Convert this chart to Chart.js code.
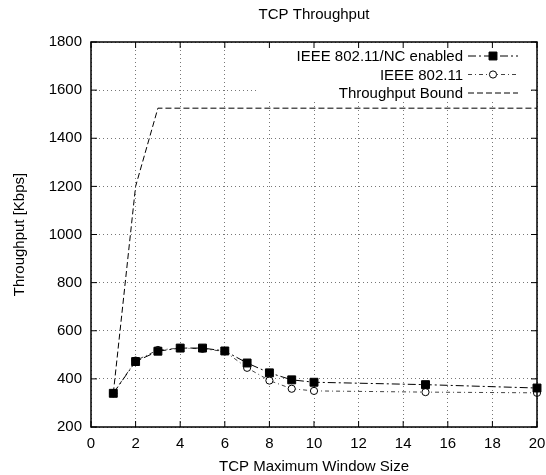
<!DOCTYPE html>
<html>
<head>
<meta charset="utf-8">
<script src="https://cdn.jsdelivr.net/npm/chart.js@4.4.1/dist/chart.umd.min.js"></script>
<style>
  html, body { margin: 0; padding: 0; background: #fff; }
  #wrap { width: 546px; height: 475px; }
</style>
</head>
<body>
<div id="wrap"><canvas id="tcp"></canvas></div>
<script>
// window sizes on the x axis
const windowSizes = [1, 2, 3, 4, 5, 6, 7, 8, 9, 10, 15, 20];
const ncEnabled = [340, 472, 515, 528, 528, 516, 466, 425, 396, 386, 376, 362];
const ieee80211 = [340, 476, 520, 528, 525, 514, 446, 393, 359, 350, 345, 342];
const boundX = [1, 2, 3, 20];
const boundY = [340, 1200, 1525, 1525];
const seriesNames = ['IEEE 802.11/NC enabled', 'IEEE 802.11', 'Throughput Bound'];

const FONT = '"Liberation Sans", Arial, Helvetica, sans-serif';
Chart.defaults.font.family = FONT;
Chart.defaults.font.size = 15;
Chart.defaults.color = '#000';

function pts(xs, ys) {
  return xs.map((x, i) => ({ x: x, y: ys[i] }));
}

// gnuplot style: title over plot, white legend box, frame with inward tics
const gnuplotLook = {
  id: 'gnuplotLook',
  beforeDatasetsDraw(chart) {
    const ctx = chart.ctx, a = chart.chartArea;
    ctx.save();
    ctx.fillStyle = '#fff';
    ctx.fillRect(258, a.top + 1, a.right - 8 - 258, 57);
    ctx.restore();
  },
  afterDatasetsDraw(chart) {
    const ctx = chart.ctx, a = chart.chartArea;
    const xs = chart.scales.x, ys = chart.scales.y;
    ctx.save();
    ctx.strokeStyle = '#000';
    ctx.lineWidth = 1.5;
    ctx.setLineDash([]);
    ctx.strokeRect(a.left, a.top, a.right - a.left, a.bottom - a.top);
    ctx.lineWidth = 1;
    ctx.beginPath();
    xs.ticks.forEach(t => {
      const px = xs.getPixelForValue(t.value);
      ctx.moveTo(px, a.bottom); ctx.lineTo(px, a.bottom - 6);
      ctx.moveTo(px, a.top); ctx.lineTo(px, a.top + 6);
    });
    ys.ticks.forEach(t => {
      const py = ys.getPixelForValue(t.value);
      ctx.moveTo(a.left, py); ctx.lineTo(a.left + 6, py);
      ctx.moveTo(a.right, py); ctx.lineTo(a.right - 6, py);
    });
    ctx.stroke();

    // title
    ctx.font = '15px ' + FONT;
    ctx.fillStyle = '#000';
    ctx.textAlign = 'center';
    ctx.textBaseline = 'middle';
    ctx.fillText('TCP Throughput', (a.left + a.right) / 2, 15);

    // legend
    const textRight = 463, lineL = 468, lineR = 518;
    chart.data.datasets.forEach((ds, i) => {
      const y = 56 + i * 18.5;
      ctx.textAlign = 'right';
      ctx.fillStyle = '#000';
      ctx.fillText(ds.label, textRight, y + 1);
      ctx.strokeStyle = ds.borderColor;
      ctx.lineWidth = ds.borderWidth;
      ctx.setLineDash(ds.borderDash || []);
      ctx.beginPath();
      ctx.moveTo(lineL, y); ctx.lineTo(lineR, y);
      ctx.stroke();
      ctx.setLineDash([]);
      if (ds.pointRadius > 0) {
        ctx.fillStyle = ds.pointBackgroundColor;
        ctx.strokeStyle = ds.pointBorderColor;
        ctx.lineWidth = 1;
        Chart.helpers.drawPoint(ctx, {
          pointStyle: ds.pointStyle, radius: ds.pointRadius, borderWidth: 1, rotation: 0
        }, (lineL + lineR) / 2, y);
      }
    });
    ctx.restore();
  }
};

new Chart(document.getElementById('tcp'), {
  type: 'line',
  data: {
    datasets: [
      {
        label: seriesNames[0],
        data: pts(windowSizes, ncEnabled),
        borderColor: '#000', borderWidth: 1, borderDash: [8, 3, 2, 3],
        pointStyle: 'rect', pointRadius: 5.6,
        pointBackgroundColor: '#000', pointBorderColor: '#000',
        tension: 0, clip: false
      },
      {
        label: seriesNames[1],
        data: pts(windowSizes, ieee80211),
        borderColor: '#444', borderWidth: 1, borderDash: [4, 3, 1, 3],
        pointStyle: 'circle', pointRadius: 3.6, pointBorderWidth: 1,
        pointBackgroundColor: '#fff', pointBorderColor: '#000',
        tension: 0, clip: false
      },
      {
        label: seriesNames[2],
        data: pts(boundX, boundY),
        borderColor: '#000', borderWidth: 1, borderDash: [6, 3],
        pointRadius: 0, tension: 0, clip: false
      }
    ]
  },
  options: {
    responsive: true,
    maintainAspectRatio: false,
    animation: false,
    layout: { padding: { top: 42, right: 9, bottom: 0, left: 0 } },
    plugins: { legend: { display: false }, title: { display: false }, tooltip: { enabled: false } },
    scales: {
      x: {
        type: 'linear', min: 0, max: 20,
        ticks: { stepSize: 2, padding: 8, maxRotation: 0 },
        grid: { color: '#777', drawTicks: false, lineWidth: 1 },
        border: { display: false, dash: [1, 3] },
        title: { display: true, text: 'TCP Maximum Window Size', padding: { top: 0, bottom: 0 }, font: { size: 15, lineHeight: 1.1 } },
        afterFit(s) { s.height = 48; s.paddingLeft = 0; s.paddingRight = 0; }
      },
      y: {
        min: 200, max: 1800,
        ticks: { stepSize: 200, padding: 9, callback: v => String(v) },
        grid: { color: '#777', drawTicks: false, lineWidth: 1 },
        border: { display: false, dash: [1, 3] },
        title: { display: true, text: 'Throughput [Kbps]', padding: { top: 11, bottom: 0 }, font: { size: 15, lineHeight: 1.2 } },
        afterFit(s) { s.width = 91; }
      }
    }
  },
  plugins: [gnuplotLook]
});
</script>
</body>
</html>
